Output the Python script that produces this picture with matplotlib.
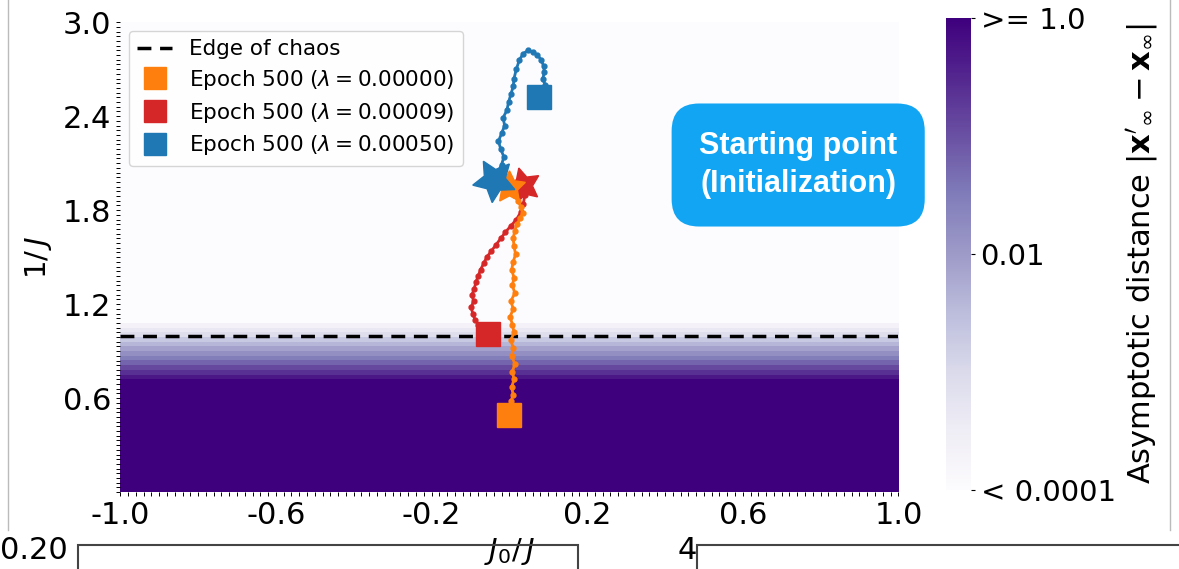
import numpy as np
import matplotlib
matplotlib.use("Agg")
import matplotlib.pyplot as plt
from matplotlib.colors import LogNorm
from matplotlib.lines import Line2D
from matplotlib.patches import Rectangle

# heatmap: asymptotic distance per row of 1/J (same across J0/J)
row_centers = [0.705, 0.735, 0.765, 0.795, 0.825, 0.855, 0.885, 0.915, 0.945, 0.975, 1.005, 1.035, 1.065]
row_dist = [1.0, 0.5, 0.25, 0.12, 0.06, 0.03, 0.015, 0.008, 0.004, 0.002, 0.0008, 0.0004, 0.0002]
n_cols = 100
n_rows = 100
dist_low = 1.0      # value below the band
dist_high = 0.0001  # value above the band

# trajectories (J0/J, 1/J)
orange_x = [0.000, 0.012, 0.022, 0.030, 0.034, 0.028, 0.020, 0.014, 0.010, 0.012, 0.016, 0.010, 0.006, 0.012,
            0.008, 0.014, 0.004, 0.010, 0.002, 0.008, 0.012, 0.004, 0.010, 0.006, 0.014, 0.008, 0.012, 0.006,
            0.010, 0.004, 0.008, 0.000]
orange_y = [1.95, 1.90, 1.86, 1.82, 1.78, 1.75, 1.71, 1.67, 1.62, 1.57, 1.52, 1.47, 1.42, 1.37, 1.32, 1.27,
            1.22, 1.17, 1.12, 1.07, 1.02, 0.97, 0.92, 0.87, 0.82, 0.77, 0.72, 0.67, 0.62, 0.58, 0.54, 0.49]
red_x = [0.035, 0.040, 0.036, 0.030, 0.018, 0.004, -0.010, -0.022, -0.034, -0.046, -0.058, -0.066, -0.074,
         -0.080, -0.086, -0.090, -0.096, -0.092, -0.098, -0.094, -0.088, -0.080, -0.070, -0.055]
red_y = [1.96, 1.90, 1.84, 1.79, 1.74, 1.70, 1.66, 1.62, 1.58, 1.54, 1.50, 1.46, 1.42, 1.38, 1.34, 1.30,
         1.26, 1.22, 1.18, 1.14, 1.10, 1.07, 1.04, 1.01]
blue_x = [-0.040, -0.030, -0.020, -0.014, -0.022, -0.028, -0.020, -0.012, -0.016, -0.006, -0.002, 0.004,
          0.010, 0.012, 0.018, 0.026, 0.036, 0.048, 0.060, 0.072, 0.082, 0.088, 0.090, 0.086, 0.092, 0.088,
          0.078, 0.070, 0.074, 0.080, 0.076]
blue_y = [1.99, 2.04, 2.09, 2.14, 2.19, 2.24, 2.29, 2.34, 2.39, 2.44, 2.49, 2.54, 2.59, 2.64, 2.70, 2.76,
          2.80, 2.82, 2.81, 2.79, 2.76, 2.72, 2.68, 2.64, 2.60, 2.57, 2.58, 2.55, 2.53, 2.52, 2.52]

labels = ["Epoch 500 ($\\lambda = 0.00000$)", "Epoch 500 ($\\lambda = 0.00009$)", "Epoch 500 ($\\lambda = 0.00050$)"]
xtick_vals = [-1.0, -0.6, -0.2, 0.2, 0.6, 1.0]
ytick_vals = [0.6, 1.2, 1.8, 2.4, 3.0]

# build grid
ycent = (np.arange(n_rows) + 0.5) * 3.0 / n_rows
col = np.where(ycent < row_centers[0], dist_low, dist_high)
for c, d in zip(row_centers, row_dist):
    col[np.argmin(np.abs(ycent - c))] = d
grid = np.tile(col[:, None], (1, n_cols))

fig = plt.figure(figsize=(11.79, 5.69), dpi=100)
ax = fig.add_axes([0.102, 0.135, 0.660, 0.826])
norm = LogNorm(vmin=1e-4, vmax=1.0)
im = ax.imshow(grid, cmap="Purples", norm=norm, origin="lower", extent=[-1, 1, 0, 3], aspect="auto",
               interpolation="nearest")

ax.axhline(1.0, color="k", ls="--", lw=2.5, dashes=(4, 2.5))

c_or, c_red, c_blue = "#ff7f0e", "#d62728", "#1f77b4"
for xs, ys, c, ang, ss in [(red_x, red_y, c_red, 15, 26), (orange_x, orange_y, c_or, 0, 24),
                           (blue_x, blue_y, c_blue, 30, 32)]:
    ax.plot(xs, ys, color=c, lw=2, marker="o", ms=3.5)
    ax.plot(xs[-1], ys[-1], marker="s", ms=17, color=c, ls="none")
    ax.plot(xs[0], ys[0], marker=(5, 1, ang), ms=ss, color=c, ls="none")

ax.set_xlim(-1, 1)
ax.set_ylim(0, 3)
ax.set_xticks(xtick_vals)
ax.set_xticklabels(["%.1f" % v for v in xtick_vals])
ax.set_yticks(ytick_vals)
ax.set_yticklabels(["%.1f" % v for v in ytick_vals])
ax.set_xticks(np.linspace(-1, 1, 101), minor=True)
ax.set_yticks(np.linspace(0, 3, 101), minor=True)
ax.tick_params(which="both", length=3, width=0.7, labelsize=22)
for s in ax.spines.values():
    s.set_visible(False)
ax.set_xlabel(r"$J_0/\,J$", fontsize=21, labelpad=4)
ax.set_ylabel(r"$1/\,J$", fontsize=21, labelpad=6)

handles = [Line2D([], [], color="k", ls="--", lw=2.5, dashes=(4, 2.5))]
for c in (c_or, c_red, c_blue):
    handles.append(Line2D([], [], color=c, marker="s", ms=16, ls="none"))
ax.legend(handles, ["Edge of chaos"] + labels, loc="upper left", fontsize=15.5, bbox_to_anchor=(0.0, 1.0),
          borderaxespad=0.4, handlelength=1.6, labelspacing=0.4)

cax = fig.add_axes([0.802, 0.139, 0.022, 0.829])
cb = fig.colorbar(im, cax=cax)
cb.outline.set_visible(False)
cb.set_ticks([1e-4, 1e-2, 1.0])
cb.set_ticklabels(["< 0.0001", "0.01", ">= 1.0"])
cb.ax.minorticks_off()
cb.ax.tick_params(labelsize=21, length=3)
cb.set_label(r"Asymptotic distance $|\mathbf{x}'_\infty - \mathbf{x}_\infty|$", fontsize=22, labelpad=6)

fig.text(0.677, 0.710, "Starting point\n(Initialization)", color="white", fontsize=22, weight="bold",
         family="Liberation Sans", ha="center", va="center", linespacing=1.35,
         bbox=dict(boxstyle="round,pad=0.9,rounding_size=0.9", fc="#12a5f4", ec="none"))

# frame fragments of neighbouring panels
fig.add_artist(Line2D([8 / 1179, 8 / 1179], [1.0, 1 - 530 / 569], color="#bbbbbb", lw=1))
fig.add_artist(Line2D([1170 / 1179, 1170 / 1179], [1.0, 1 - 530 / 569], color="#bbbbbb", lw=1))
fig.add_artist(Rectangle((78 / 1179, -0.1), 500 / 1179, 0.1 + 1 - 545 / 569, fill=False, ec="#444444", lw=1.5))
fig.add_artist(Rectangle((697 / 1179, -0.1), 0.5, 0.1 + 1 - 545 / 569, fill=False, ec="#444444", lw=1.5))
fig.text(0.0, 1 - 536 / 569, "0.20", fontsize=22, va="top")
fig.text(0.575, 1 - 536 / 569, "4", fontsize=22, va="top")

fig.savefig("out.png", dpi=100)
